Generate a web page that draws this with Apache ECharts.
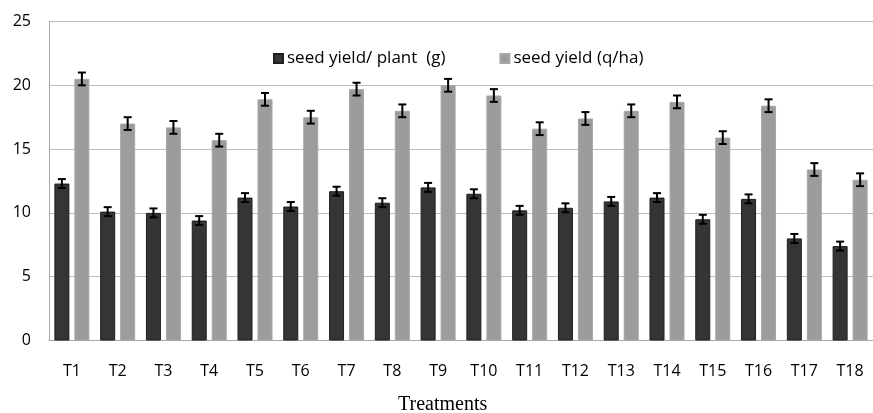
<!DOCTYPE html>
<html>
<head>
<meta charset="utf-8">
<script src="https://cdn.jsdelivr.net/npm/echarts@6/dist/echarts.min.js"></script>
<style>html,body{margin:0;padding:0;background:#fff}#c{width:873px;height:413px}</style>
</head>
<body>
<div id="c"></div>
<script>
const categories = ['T1','T2','T3','T4','T5','T6','T7','T8','T9','T10','T11','T12','T13','T14','T15','T16','T17','T18'];
const seedYieldPlant = [12.3,10.1,10.0,9.4,11.2,10.5,11.7,10.8,12.0,11.5,10.2,10.4,10.9,11.2,9.5,11.1,8.0,7.4];
const seedYieldHa = [20.5,17.0,16.7,15.7,18.9,17.5,19.7,18.0,20.0,19.2,16.6,17.4,18.0,18.7,15.9,18.4,13.4,12.6];
const errPlant = [0.35,0.35,0.35,0.35,0.35,0.35,0.35,0.35,0.35,0.35,0.35,0.35,0.35,0.35,0.35,0.35,0.35,0.35];
const errHa = [0.5,0.5,0.5,0.5,0.5,0.5,0.5,0.5,0.5,0.5,0.5,0.5,0.5,0.5,0.5,0.5,0.5,0.5];
const yTicks = {min:0, max:25, interval:5};

const BAR_W = 15, BAR_GAP = 5;
function errSeries(vals, errs, side) {
  return {
    type: 'custom',
    z: 10,
    silent: true,
    data: vals.map((v, i) => [i, v, errs[i]]),
    renderItem: function (params, api) {
      const x = api.value(0), y = api.value(1), e = api.value(2);
      const off = side * (BAR_W + BAR_GAP) / 2;
      const hi = api.coord([x, y + e]);
      const lo = api.coord([x, y - e]);
      const cx = hi[0] + off;
      const st = {stroke: '#000', lineWidth: 2};
      return {type: 'group', children: [
        {type: 'line', shape: {x1: cx, y1: hi[1], x2: cx, y2: lo[1]}, style: st},
        {type: 'line', shape: {x1: cx - 4, y1: hi[1], x2: cx + 4, y2: hi[1]}, style: st},
        {type: 'line', shape: {x1: cx - 4, y1: lo[1], x2: cx + 4, y2: lo[1]}, style: st}
      ]};
    }
  };
}

const chart = echarts.init(document.getElementById('c'), null, {renderer: 'canvas'});
chart.setOption({
  animation: false,
  backgroundColor: '#fff',
  title: {
    text: 'Treatments', left: 393, top: 390,
    textStyle: {fontFamily: 'Liberation Serif', fontSize: 20, fontWeight: 'normal', color: '#000'}
  },
  legend: {
    data: ['seed yield/ plant  (g)', 'seed yield (q/ha)'],
    left: 268, top: 45, itemWidth: 9, itemHeight: 9, itemGap: 54, icon: 'rect',
    textStyle: {fontFamily: 'Open Sans', fontSize: 17, color: '#000', padding: [0,0,0,-1]}
  },
  grid: {left: 49, right: -7, top: 21.5, bottom: 72.5},
  xAxis: {
    type: 'category', data: categories,
    axisTick: {show: false},
    axisLine: {lineStyle: {color: '#a8a8a8', width: 1}},
    axisLabel: {color: '#000', fontFamily: 'Open Sans', fontSize: 16, margin: 23}
  },
  yAxis: {
    type: 'value', min: yTicks.min, max: yTicks.max, interval: yTicks.interval,
    axisLine: {show: true, lineStyle: {color: '#a8a8a8', width: 1}},
    axisTick: {show: false},
    splitLine: {lineStyle: {color: '#bdbdbd', width: 1}},
    axisLabel: {color: '#000', fontFamily: 'Open Sans', fontSize: 16, margin: 18}
  },
  series: [
    {name: 'seed yield/ plant  (g)', type: 'bar', data: seedYieldPlant, barWidth: BAR_W, barGap: (BAR_GAP / BAR_W * 100) + '%',
     itemStyle: {color: '#353535', borderColor: '#1e1e1e', borderWidth: 1}},
    {name: 'seed yield (q/ha)', type: 'bar', data: seedYieldHa, barWidth: BAR_W,
     itemStyle: {color: '#9c9c9c', borderColor: '#a6a6a6', borderWidth: 1}},
    errSeries(seedYieldPlant, errPlant, -1),
    errSeries(seedYieldHa, errHa, 1)
  ]
});
</script>
</body>
</html>
